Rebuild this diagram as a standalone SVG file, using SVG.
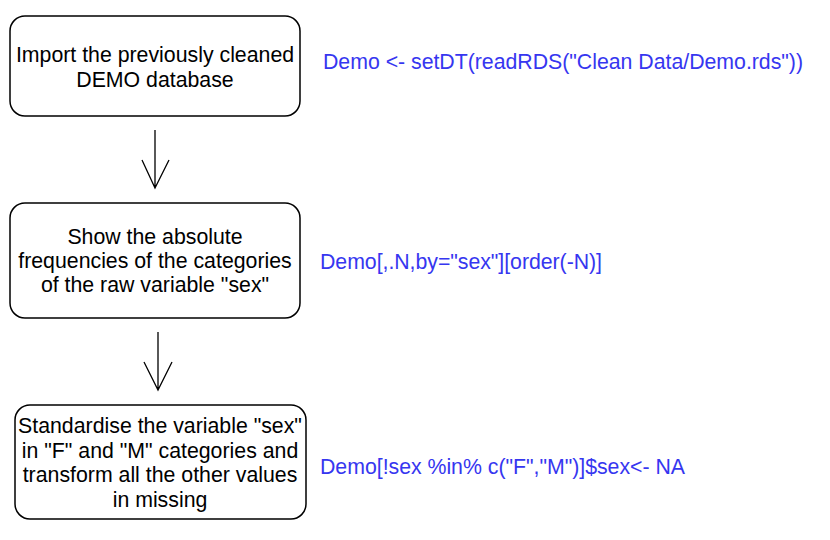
<svg xmlns="http://www.w3.org/2000/svg" width="830" height="540" viewBox="0 0 830 540">
<style>
.box{fill:#fff;stroke:#000;stroke-width:1.5}
.t{font-family:"Liberation Sans",Arial,sans-serif;font-size:21.3px;fill:#000;text-anchor:middle}
.code{font-family:"Liberation Sans",Arial,sans-serif;font-size:21.3px;fill:#3636f0}
.edge{fill:none;stroke:#000;stroke-width:1.3}
</style>
<rect width="830" height="540" fill="#fff"/>
<g id="node1">
<rect class="box" x="10" y="16" width="290" height="100" rx="15"/>
<text class="t" x="155" y="62">Import the previously cleaned</text>
<text class="t" x="155" y="87">DEMO database</text>
</g>
<g id="node2">
<rect class="box" x="10" y="203" width="290" height="115" rx="15"/>
<text class="t" x="155" y="244">Show the absolute</text>
<text class="t" x="155" y="268">frequencies of the categories</text>
<text class="t" x="155" y="292">of the raw variable "sex"</text>
</g>
<g id="node3">
<rect class="box" x="15" y="405" width="291" height="114" rx="15"/>
<text class="t" x="160" y="433">Standardise the variable "sex"</text>
<text class="t" x="160" y="458">in "F" and "M" categories and</text>
<text class="t" x="160" y="482">transform all the other values</text>
<text class="t" x="160" y="507">in missing</text>
</g>
<g id="code1"><text class="code" x="323" y="69" textLength="480" lengthAdjust="spacing">Demo &lt;- setDT(readRDS("Clean Data/Demo.rds"))</text></g>
<g id="code2"><text class="code" x="320" y="269" textLength="282" lengthAdjust="spacing">Demo[,.N,by="sex"][order(-N)]</text></g>
<g id="code3"><text class="code" x="320" y="474" textLength="365" lengthAdjust="spacing">Demo[!sex %in% c("F","M")]$sex&lt;- NA</text></g>
<g id="connectors">
<path class="edge" d="M155 130 V188 M142 160 L155 188 L169 160"/>
<path class="edge" d="M158 332 V390 M144 362 L158 390 L172 362"/>
</g>
</svg>
